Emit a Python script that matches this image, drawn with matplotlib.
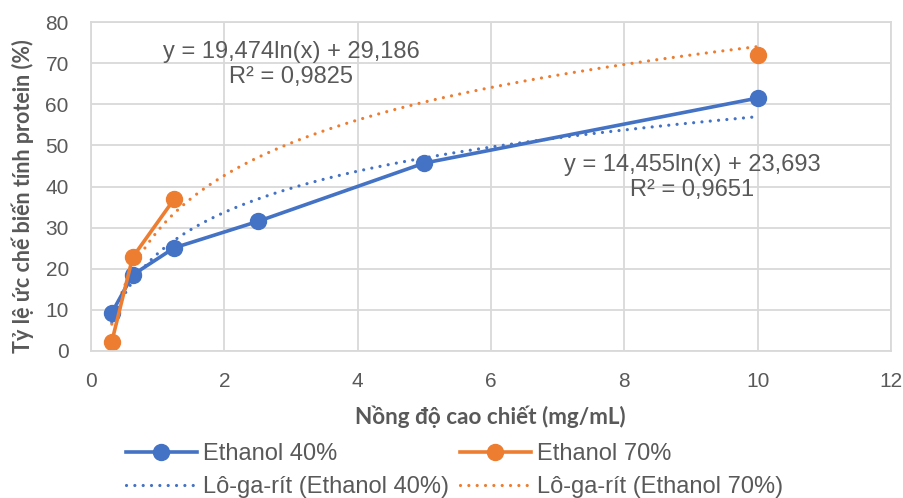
import numpy as np
import matplotlib
matplotlib.use("Agg")
import matplotlib.pyplot as plt

# Data
x40 = [0.3125, 0.625, 1.25, 2.5, 5, 10]
y40 = [9.3, 18.5, 25.1, 31.5, 45.7, 61.5]
x70 = [0.3125, 0.625, 1.25, 2.5, 5, 10]
y70 = [2.3, 22.8, 37.0, np.nan, np.nan, 72.0]
fit40 = (14.455, 23.693)
fit70 = (19.474, 29.186)
eq40 = "y = 14,455ln(x) + 23,693\nR² = 0,9651"
eq70 = "y = 19,474ln(x) + 29,186\nR² = 0,9825"
xlabel = "Nồng độ cao chiết (mg/mL)"
ylabel = "Tỷ lệ ức chế biến tính protein (%)"
labels = ["Ethanol 40%", "Ethanol 70%", "Lô-ga-rít (Ethanol 40%)", "Lô-ga-rít (Ethanol 70%)"]

blue = "#4472C4"
orange = "#ED7D31"
grid = "#D9D9D9"
tcol = "#595959"

plt.rcParams['font.family'] = ['Liberation Sans', 'DejaVu Sans']

W, H = 904, 498
fig = plt.figure(figsize=(W/100, H/100), dpi=100)
ax = fig.add_axes([91/W, 1-351/H, 800/W, 329/H])

dot = (0, (0.01, 2.6))
xs = np.linspace(min(x40), max(x40), 300)
l3, = ax.plot(xs, fit40[0]*np.log(xs)+fit40[1], color=blue, lw=2.3, ls=dot, dash_capstyle='round')
l4, = ax.plot(xs, fit70[0]*np.log(xs)+fit70[1], color=orange, lw=2.3, ls=dot, dash_capstyle='round')
l1, = ax.plot(x40, y40, color=blue, lw=2.6, marker='o', ms=11.5)
l2, = ax.plot(x70, y70, color=orange, lw=2.6, marker='o', ms=11.5)

ax.set_xlim(0, 12)
ax.set_ylim(0, 80)
ax.set_xticks(range(0, 13, 2))
ax.set_yticks(range(0, 81, 10))
ax.grid(True, color=grid, lw=1.3)
ax.set_axisbelow(True)
for s in ax.spines.values():
    s.set_color(grid)
    s.set_linewidth(1.3)
ax.tick_params(length=0, labelsize=15, labelcolor=tcol)
ax.tick_params(axis='y', pad=16)
ax.tick_params(axis='x', pad=15)

ax.set_xlabel(xlabel, fontsize=16.2, fontweight='bold', color=tcol, family=['Lato', 'DejaVu Sans'])
ax.set_ylabel(ylabel, fontsize=15.5, fontweight='bold', color=tcol, family=['Lato', 'DejaVu Sans'])
ax.xaxis.set_label_coords((490-91)/800, -(417-351)/329)
ax.yaxis.set_label_coords(-(91-23)/800, (351-196)/329)
ax.xaxis.label.set_va('center')
ax.yaxis.label.set_va('center')

fig.text(291/W, 1-64.5/H, eq70, ha='center', va='center', fontsize=17, color=tcol, linespacing=1.2)
fig.text(692/W, 1-177.5/H, eq40, ha='center', va='center', fontsize=17, color=tcol, linespacing=1.2)

common = dict(loc='center left', frameon=False, fontsize=17, handlelength=3.0,
              handletextpad=0.25, labelspacing=0.45, borderaxespad=0, borderpad=0)
legA = fig.legend([l1, l3], [labels[0], labels[2]], bbox_to_anchor=(126/W, 1-470.5/H), **common)
legB = fig.legend([l2, l4], [labels[1], labels[3]], bbox_to_anchor=(460/W, 1-470.5/H), **common)
for leg in (legA, legB):
    for t in leg.get_texts():
        t.set_color(tcol)

fig.savefig("out.png", dpi=100)
